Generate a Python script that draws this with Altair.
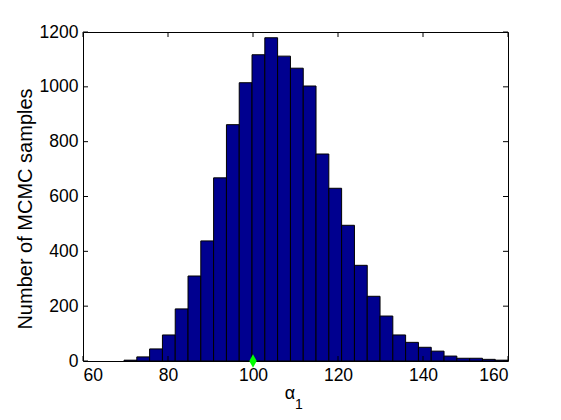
import altair as alt
import pandas as pd

# Histogram bins (left/right edges) and counts
bin_left = [69.65, 72.66, 75.67, 78.69, 81.70, 84.71, 87.72, 90.73, 93.75, 96.76,
            99.77, 102.78, 105.79, 108.81, 111.82, 114.83, 117.84, 120.85, 123.87, 126.88,
            129.89, 132.90, 135.91, 138.93, 141.94, 144.95, 147.96, 150.97, 153.99, 157.00]
bin_right = [72.66, 75.67, 78.69, 81.70, 84.71, 87.72, 90.73, 93.75, 96.76, 99.77,
             102.78, 105.79, 108.81, 111.82, 114.83, 117.84, 120.85, 123.87, 126.88, 129.89,
             132.90, 135.91, 138.93, 141.94, 144.95, 147.96, 150.97, 153.99, 157.00, 160.00]
counts = [3, 15, 44, 95, 190, 310, 438, 668, 862, 1015,
          1117, 1179, 1112, 1068, 1003, 755, 630, 495, 349, 236,
          164, 95, 68, 50, 36, 18, 10, 10, 6, 3]

true_x = [100]
true_y = [0]

x_ticks = [60, 80, 100, 120, 140, 160]
y_ticks = [0, 200, 400, 600, 800, 1000, 1200]

W, H = 425, 329
FONT = "Liberation Sans"

hist_df = pd.DataFrame({"lo": bin_left, "hi": bin_right, "n": counts})
pt_df = pd.DataFrame({"x": true_x, "y": true_y})
xt_df = pd.DataFrame({"v": x_ticks})
yt_df = pd.DataFrame({"v": y_ticks})

xscale = alt.Scale(domain=[60, 160], nice=False, zero=False)
yscale = alt.Scale(domain=[0, 1200], nice=False)

x_axis = alt.Axis(values=x_ticks, title=None, format="d", labelPadding=5,
                  domain=False, ticks=False, grid=False)
y_axis = alt.Axis(values=y_ticks, title="Number of MCMC samples", format="d", labelPadding=5,
                  titlePadding=4, titleY=H / 2 + 12, domain=False, ticks=False, grid=False)

bars = alt.Chart(hist_df).mark_rect(
    color="#00008F", stroke="black", strokeWidth=1, clip=True
).encode(
    x=alt.X("lo:Q", scale=xscale, axis=x_axis),
    x2="hi:Q",
    y=alt.Y("n:Q", scale=yscale, axis=y_axis),
    y2=alt.datum(0),
)

marker = alt.Chart(pt_df).mark_point(
    filled=True, color="#00FF00", opacity=1,
    shape="M0,-1L0.55,0L0,1L-0.55,0Z", size=180
).encode(
    x=alt.X("x:Q", scale=xscale),
    y=alt.Y("y:Q", scale=yscale),
)

tick_len = 5
left_ticks = alt.Chart(yt_df).mark_rule(color="black", strokeWidth=1).encode(
    y=alt.Y("v:Q", scale=yscale), x=alt.value(0), x2=alt.value(tick_len))
right_ticks = alt.Chart(yt_df).mark_rule(color="black", strokeWidth=1).encode(
    y=alt.Y("v:Q", scale=yscale), x=alt.value(W - tick_len), x2=alt.value(W))
bottom_ticks = alt.Chart(xt_df).mark_rule(color="black", strokeWidth=1).encode(
    x=alt.X("v:Q", scale=xscale), y=alt.value(H), y2=alt.value(H - tick_len))
top_ticks = alt.Chart(xt_df).mark_rule(color="black", strokeWidth=1).encode(
    x=alt.X("v:Q", scale=xscale), y=alt.value(0), y2=alt.value(tick_len))

# x-axis title: alpha with subscript 1
alpha_txt = alt.Chart(pt_df).mark_text(
    text="α", font=FONT, fontSize=18, color="black", align="center", baseline="alphabetic"
).encode(x=alt.value(207), y=alt.value(H + 38))
sub_txt = alt.Chart(pt_df).mark_text(
    text="1", font=FONT, fontSize=14, color="black", align="center", baseline="alphabetic"
).encode(x=alt.value(216), y=alt.value(H + 48))

chart = alt.layer(bars, left_ticks, right_ticks, bottom_ticks, top_ticks, marker,
                  alpha_txt, sub_txt).properties(
    width=W, height=H,
    background="white",
    autosize=alt.AutoSizeParams(type="none"),
    padding={"left": 75, "top": 24, "right": 45, "bottom": 50},
).configure_view(
    stroke="black", strokeWidth=1
).configure_axis(
    labelFont=FONT, labelFontSize=17.5, labelColor="black",
    titleFont=FONT, titleFontSize=20, titleColor="black", titleFontWeight="normal",
)

chart.save("out.html", embed_options={"renderer": "svg", "actions": False})
